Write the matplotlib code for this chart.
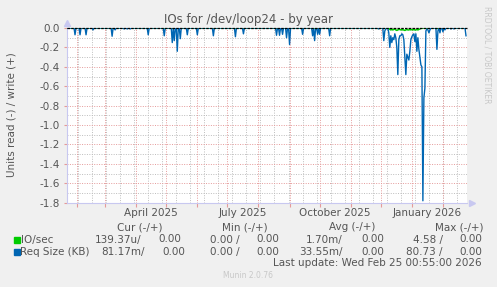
import matplotlib
matplotlib.use("Agg")
import matplotlib.pyplot as plt
import matplotlib.transforms as mtransforms
import numpy as np
import pandas as pd

plt.rcParams["font.family"] = ["DejaVu Sans"]
plt.rcParams["axes.unicode_minus"] = False

# time window of the "by year" graph
t_start = pd.Timestamp("2025-01-22 00:55")
t_end = pd.Timestamp("2026-02-25 00:55")

# Req Size (KB), read side (drawn negative); days not listed sit at 0
req_dates = [
    "2025-01-30", "2025-02-04", "2025-02-10", "2025-02-17", "2025-03-08",
    "2025-03-11", "2025-03-20", "2025-03-23", "2025-03-26", "2025-04-13",
    "2025-04-29", "2025-05-07", "2025-05-09", "2025-05-12", "2025-05-15",
    "2025-05-22", "2025-06-01", "2025-06-17", "2025-07-09", "2025-07-17",
    "2025-08-19", "2025-08-22", "2025-08-25", "2025-08-29", "2025-09-01",
    "2025-09-14", "2025-09-24", "2025-09-26", "2025-09-29", "2025-10-01",
    "2025-10-11", "2025-11-29",
    "2025-12-04", "2025-12-05", "2025-12-06", "2025-12-09", "2025-12-10",
    "2025-12-11", "2025-12-12", "2025-12-13", "2025-12-14", "2025-12-15",
    "2025-12-16", "2025-12-17", "2025-12-18", "2025-12-19", "2025-12-20",
    "2025-12-21", "2025-12-22", "2025-12-23", "2025-12-24", "2025-12-25",
    "2025-12-26", "2025-12-27", "2025-12-28", "2025-12-29", "2025-12-30",
    "2025-12-31", "2026-01-01", "2026-01-02", "2026-01-03", "2026-01-04",
    "2026-01-05", "2026-01-06", "2026-01-07", "2026-01-08", "2026-01-09",
    "2026-01-10", "2026-01-11", "2026-01-12", "2026-01-13", "2026-01-14",
    "2026-01-15", "2026-01-16", "2026-01-17", "2026-01-18", "2026-01-19",
    "2026-01-26", "2026-01-27", "2026-01-29", "2026-02-01", "2026-02-03",
    "2026-02-09", "2026-02-12", "2026-02-24",
]
req_values = [
    -0.07, -0.07, -0.07, -0.02, -0.085,
    -0.02, -0.01, -0.01, -0.01, -0.07,
    -0.08, -0.15, -0.13, -0.24, -0.11,
    -0.07, -0.07, -0.08, -0.09, -0.06,
    -0.075, -0.075, -0.065, -0.10, -0.17,
    -0.065, -0.08, -0.13, -0.065, -0.065,
    -0.08, -0.01,
    -0.13, -0.03, -0.01, -0.05, -0.20,
    -0.08, -0.15, -0.10, -0.12, -0.06,
    -0.10, -0.20, -0.48, -0.12, -0.08,
    -0.08, -0.06, -0.07, -0.12, -0.30,
    -0.48, -0.27, -0.30, -0.33, -0.24,
    -0.12, -0.09, -0.07, -0.06, -0.14,
    -0.06, -0.24, -0.10, -0.22, -0.30,
    -0.38, -0.40, -1.78, -0.72, -0.62,
    -0.03, -0.01, -0.02, -0.05, -0.02,
    -0.22, -0.03, -0.05, -0.04, -0.02,
    -0.01, -0.01, -0.08,
]

# IO/sec, read side (drawn negative); days not listed sit at 0
io_dates = [
    "2025-11-28",
    "2025-12-10", "2025-12-11", "2025-12-12", "2025-12-13", "2025-12-14",
    "2025-12-15", "2025-12-16", "2025-12-17", "2025-12-18", "2025-12-19",
    "2025-12-20", "2025-12-21", "2025-12-22", "2025-12-23", "2025-12-24",
    "2025-12-25", "2025-12-26", "2025-12-27", "2025-12-28", "2025-12-29",
    "2025-12-30", "2025-12-31", "2026-01-01", "2026-01-02", "2026-01-03",
    "2026-01-04", "2026-01-05", "2026-01-06", "2026-01-07", "2026-01-08",
    "2026-01-09", "2026-01-10",
    "2026-01-27", "2026-01-29", "2026-02-01",
]
io_values = [
    -0.005,
    -0.015, -0.02, -0.015, -0.02, -0.015,
    -0.01, -0.02, -0.025, -0.02, -0.015,
    -0.015, -0.02, -0.015, -0.02, -0.02,
    -0.025, -0.02, -0.015, -0.02, -0.02,
    -0.015, -0.02, -0.015, -0.02, -0.015,
    -0.02, -0.02, -0.015, -0.02, -0.015,
    -0.01, -0.005,
    -0.005, -0.005, -0.005,
]

legend_rows = [
    ("IO/sec", "#00CC00", "139.37u/", "0.00", "0.00 /", "0.00",
     "1.70m/", "0.00", "4.58 /", "0.00"),
    ("Req Size (KB)", "#0066B3", "81.17m/", "0.00", "0.00 /", "0.00",
     "33.55m/", "0.00", "80.73 /", "0.00"),
]
column_heads = ["Cur (-/+)", "Min (-/+)", "Avg (-/+)", "Max (-/+)"]
x_labels = [("2025-04-16", "April 2025"), ("2025-07-16", "July 2025"),
            ("2025-10-16", "October 2025"), ("2026-01-16", "January 2026")]
y_ticks = [-1.8, -1.6, -1.4, -1.2, -1.0, -0.8, -0.6, -0.4, -0.2, 0.0]
y_tick_labels = ["-1.8", "-1.6", "-1.4", "-1.2", "-1.0", "-0.8", "-0.6", "-0.4", "-0.2", "0.0"]


def daily_series(dates, values):
    days = pd.date_range("2025-01-22", "2026-02-24", freq="D") + pd.Timedelta("55min")
    s = pd.Series(0.0, index=days)
    for d, v in zip(dates, values):
        s[pd.Timestamp(d) + pd.Timedelta("55min")] = v
    return s


req = daily_series(req_dates, req_values)
io = daily_series(io_dates, io_values)

W, H = 497, 287
fig = plt.figure(figsize=(W / 100, H / 100), dpi=100, facecolor="#F0F0F0")
ax = fig.add_axes([67 / W, 1 - 202.7 / H, 400 / W, 174.7 / H])
ax.set_facecolor("white")
ax.set_xlim(t_start, t_end)
ax.set_ylim(-1.8, 0.0)

text_col = "#555555"
red = "#E59A9A"
grey = "#BDBDBD"

# grids: grey every two weeks / 0.1, red every month / 0.2
for d in pd.date_range("2025-02-02", "2026-02-24", freq="14D"):
    ax.axvline(d, color=grey, lw=0.7, ls=(0, (1, 1.5)), zorder=1)
for y in np.arange(-1.7, 0, 0.2):
    ax.axhline(y, color=grey, lw=0.7, ls=(0, (1, 1.5)), zorder=1)
for d in pd.date_range("2025-02-01", "2026-02-24", freq="MS"):
    ax.axvline(d, color=red, lw=0.7, ls=(0, (1, 1.5)), zorder=2)
for y in y_ticks:
    ax.axhline(y, color=red, lw=0.7, ls=(0, (1, 1.5)), zorder=2)

ax.plot(io.index, io.values, color="#00CC00", lw=1.1, zorder=3)
ax.plot(req.index, req.values, color="#0066B3", lw=1.0, zorder=4)
ax.axhline(0, color="black", lw=0.9, ls=(0, (2, 1)), zorder=5, clip_on=False)

# axes styling
for side in ("top", "right"):
    ax.spines[side].set_visible(False)
for side in ("left", "bottom"):
    ax.spines[side].set_color("#C8C8F0")
    ax.spines[side].set_linewidth(0.8)
ax.plot([0], [1.03], marker="^", ms=4, color="#C8C8F0", transform=ax.transAxes, clip_on=False)
ax.plot([1.012], [0], marker=">", ms=4, color="#C8C8F0", transform=ax.transAxes, clip_on=False)

ax.set_yticks(y_ticks)
ax.set_yticklabels(y_tick_labels)
ax.tick_params(axis="y", length=2, color=red, labelsize=7.5, labelcolor=text_col, pad=3)
ax.set_xticks(pd.date_range("2025-02-01", "2026-02-24", freq="MS"))
ax.set_xticklabels([])
ax.tick_params(axis="x", length=3, color=red, direction="out")

trans = mtransforms.blended_transform_factory(ax.transData, fig.transFigure)
for d, lab in x_labels:
    ax.text(pd.Timestamp(d), 1 - 213 / H, lab, transform=trans, ha="center", va="center",
            fontsize=7.5, color=text_col)

fig.text(248 / W, 1 - 20 / H, "IOs for /dev/loop24 - by year", ha="center", va="center",
         fontsize=8.5, color=text_col)
fig.text(12 / W, 1 - 115 / H, "Units read (-) / write (+)", rotation=90, ha="center",
         va="center", fontsize=7.5, color=text_col)
fig.text(487 / W, 1 - 55 / H, "RRDTOOL / TOBI OETIKER", rotation=270, ha="center",
         va="center", fontsize=5.5, color="#C8C8C8")

# legend table
head_x = [140, 245, 352, 459]
for hx, h in zip(head_x, column_heads):
    fig.text(hx / W, 1 - 227 / H, h, ha="center", va="center", fontsize=7.5, color=text_col)

row_y = [239.5, 252]
val_x = [(141, "right"), (158, "left"), (240, "right"), (256, "left"),
         (343, "right"), (361, "left"), (443, "right"), (459, "left")]
val_x2 = [(145, "right"), (162, "left"), (240, "right"), (256, "left"),
          (343, "right"), (361, "left"), (443, "right"), (459, "left")]
for (name, col, *vals), yy, vx in zip(legend_rows, row_y, [val_x, val_x2]):
    fig.patches.append(plt.Rectangle((14 / W, 1 - (yy + 3) / H), 6 / W, 6 / H,
                                     transform=fig.transFigure, color=col))
    fig.text(20.5 / W, 1 - yy / H, name, ha="left", va="center", fontsize=7.5, color=text_col)
    for (px, ha), v in zip(vx, vals):
        fig.text(px / W, 1 - yy / H, v, ha=ha, va="center", fontsize=7.5, color=text_col)

fig.text(482 / W, 1 - 263.5 / H, "Last update: Wed Feb 25 00:55:00 2026", ha="right",
         va="center", fontsize=7.5, color=text_col)
fig.text(248 / W, 1 - 275 / H, "Munin 2.0.76", ha="center", va="center", fontsize=5.5,
         color="#C8C8C8")

fig.savefig("out.png", dpi=100, facecolor=fig.get_facecolor())
